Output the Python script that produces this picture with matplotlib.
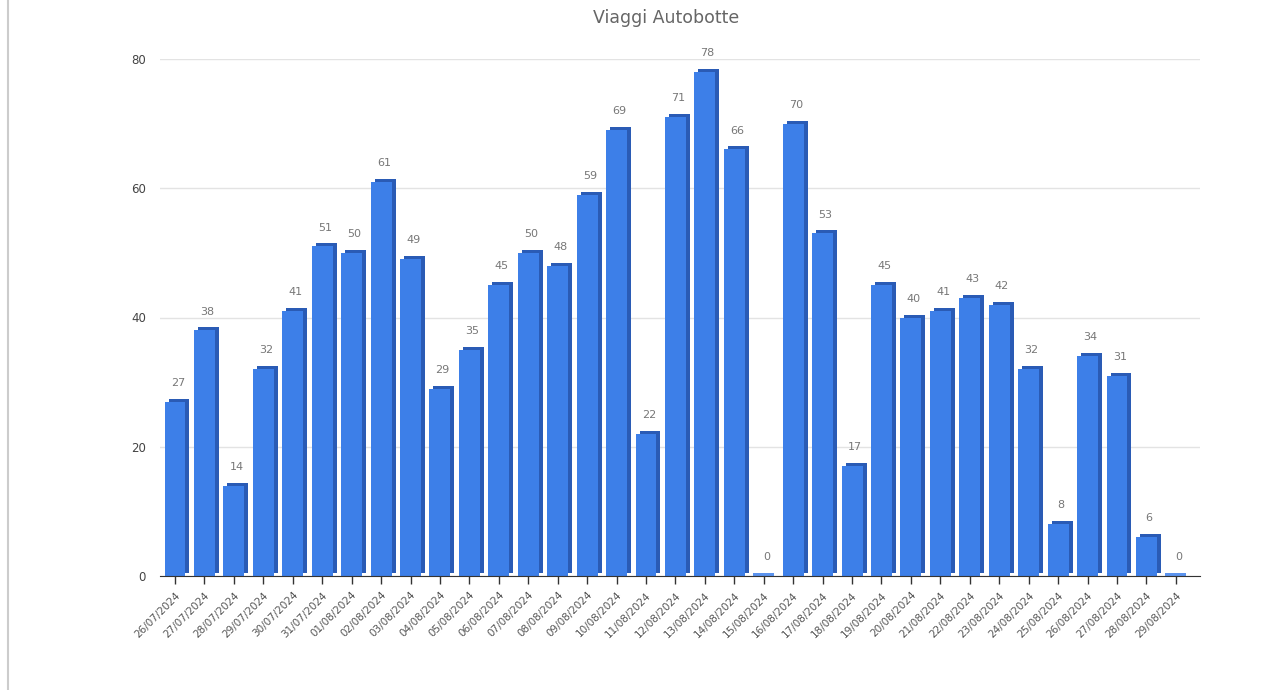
import matplotlib
matplotlib.use("Agg")
import matplotlib.pyplot as plt
import matplotlib.transforms as mtransforms
from matplotlib.lines import Line2D
import numpy as np

# data
dates = ["26/07/2024", "27/07/2024", "28/07/2024", "29/07/2024", "30/07/2024", "31/07/2024",
         "01/08/2024", "02/08/2024", "03/08/2024", "04/08/2024", "05/08/2024", "06/08/2024",
         "07/08/2024", "08/08/2024", "09/08/2024", "10/08/2024", "11/08/2024", "12/08/2024",
         "13/08/2024", "14/08/2024", "15/08/2024", "16/08/2024", "17/08/2024", "18/08/2024",
         "19/08/2024", "20/08/2024", "21/08/2024", "22/08/2024", "23/08/2024", "24/08/2024",
         "25/08/2024", "26/08/2024", "27/08/2024", "28/08/2024", "29/08/2024"]
viaggi = [27, 38, 14, 32, 41, 51, 50, 61, 49, 29, 35, 45, 50, 48, 59, 69, 22, 71, 78, 66,
          0, 70, 53, 17, 45, 40, 41, 43, 42, 32, 8, 34, 31, 6, 0]
y_ticks = [0, 20, 40, 60, 80]

fig = plt.figure(figsize=(12.74, 6.9), dpi=100)
ax = fig.add_axes([160 / 1274, 114 / 690, 1040 / 1274, 517 / 690])

x = np.arange(len(dates))
width = 0.71

# pseudo 3D: darker copy shifted up-right, then the front face
depth = mtransforms.ScaledTranslation(0.04, 0.03, fig.dpi_scale_trans)
ax.bar(x, viaggi, width=width, color="#2a5bb5", zorder=2,
       transform=ax.transData + depth)
ax.bar(x, viaggi, width=width, color="#3d7fe8", zorder=3)
# thin slab for zero values
ax.bar(x, [0.4 if v == 0 else 0 for v in viaggi], width=width, color="#5b93ee", zorder=3)

for xi, v in zip(x, viaggi):
    ax.annotate(str(v), (xi, v), xytext=(2, 10), textcoords="offset points",
                ha="center", va="bottom", fontsize=8, color="#777777")

ax.set_xlim(-0.51, 34.82)
ax.set_ylim(0, 80)
ax.set_yticks(y_ticks)
ax.set_xticks(x)
ax.set_xticklabels(dates, rotation=45, ha="right", rotation_mode="anchor",
                   fontsize=7.5, color="#555555")
ax.tick_params(axis="y", length=0, labelsize=8.5, labelcolor="#444444", pad=10)
ax.tick_params(axis="x", length=6, width=1, color="#333333", pad=4)

ax.grid(axis="y", color="#e3e3e3", linewidth=1, zorder=0)
ax.set_axisbelow(True)
for side in ["top", "right", "left"]:
    ax.spines[side].set_visible(False)
ax.spines["bottom"].set_color("#333333")
ax.spines["bottom"].set_zorder(4)

fig.text(666 / 1274, 1 - 18 / 690, "Viaggi Autobotte", ha="center", va="center",
         fontsize=12.5, color="#666666")

# left frame line of the screenshot
fig.add_artist(Line2D([8 / 1274, 8 / 1274], [0, 1], color="#cccccc", linewidth=1.5))

fig.savefig("out.png", dpi=100)
